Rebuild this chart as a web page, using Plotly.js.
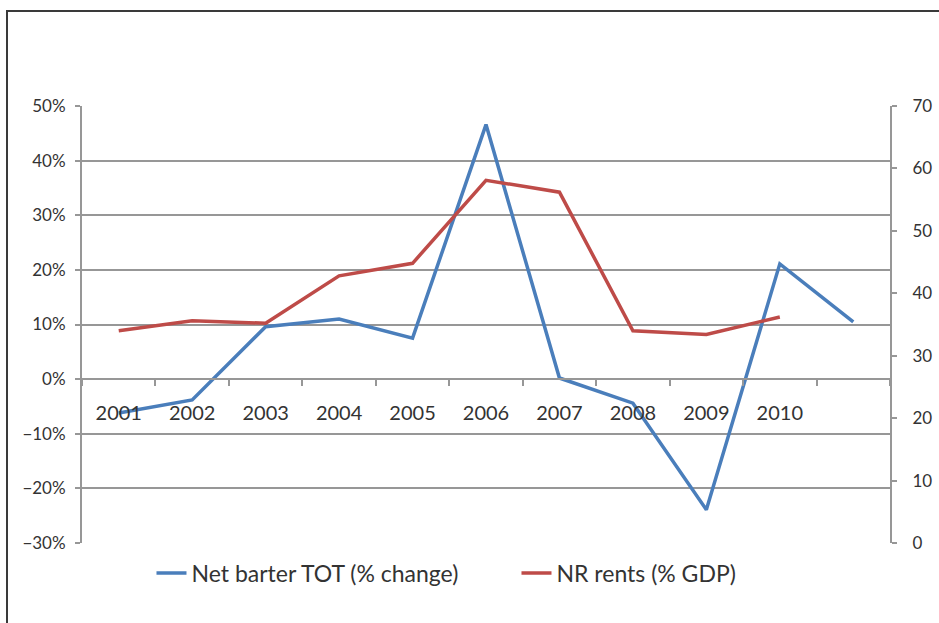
<!DOCTYPE html>
<html>
<head>
<meta charset="utf-8">
<script src="https://cdn.plot.ly/plotly-3.0.1.min.js"></script>
<style>
  html, body { margin: 0; padding: 0; background: #fff; }
  #wrap { position: relative; width: 939px; height: 623px; }
  #chart { position: absolute; left: 0; top: 0; width: 939px; height: 623px; }
  #frame { position: absolute; left: 6px; top: 10px; width: 933px; height: 613px;
           border-top: 2px solid #3a3a3a; border-left: 2px solid #3a3a3a; pointer-events: none; }
</style>
</head>
<body>
<div id="wrap">
  <div id="chart"></div>
  <div id="frame"></div>
</div>
<script>
// Categories (11th point has no label on the axis)
var categories = ["2001", "2002", "2003", "2004", "2005", "2006", "2007", "2008", "2009", "2010", "2011"];
var tickLabels = ["2001", "2002", "2003", "2004", "2005", "2006", "2007", "2008", "2009", "2010", " "];

// Net barter terms of trade, % change (left axis, fraction)
var totChange = [-0.062, -0.038, 0.096, 0.110, 0.075, 0.466, 0.002, -0.044, -0.239, 0.211, 0.105];

// Natural resource rents, % of GDP (right axis)
var nrRents = [34.0, 35.6, 35.2, 42.8, 44.8, 58.1, 56.2, 34.0, 33.4, 36.2, null];

var seriesNames = ["Net barter TOT (% change)", "NR rents (% GDP)"];

var gridCol = "#979797";
var txtCol = "#333333";
var fontFam = "Lato, 'Open Sans', sans-serif";

var traces = [
  {
    x: categories, y: totChange, name: seriesNames[0], type: "scatter", mode: "lines",
    line: { color: "#4a7ebb", width: 3.5 }, yaxis: "y"
  },
  {
    x: categories, y: nrRents, name: seriesNames[1], type: "scatter", mode: "lines",
    line: { color: "#be4b48", width: 3.5 }, yaxis: "y2", connectgaps: false
  }
];

var layout = {
  width: 939, height: 623,
  margin: { l: 82, r: 49, t: 106, b: 80 },
  paper_bgcolor: "#ffffff", plot_bgcolor: "#ffffff",
  font: { family: fontFam, color: txtCol },
  showlegend: true,
  legend: {
    orientation: "h", x: 0.086, xanchor: "left", y: -0.069, yanchor: "middle",
    font: { size: 23, color: txtCol, family: fontFam },
    bgcolor: "rgba(0,0,0,0)", itemwidth: 30, traceorder: "normal",
    entrywidth: 320, entrywidthmode: "pixels"
  },
  xaxis: {
    type: "category",
    categoryorder: "array", categoryarray: categories,
    tickmode: "array", tickvals: categories, ticktext: tickLabels,
    tickson: "boundaries",
    anchor: "free", position: 0.375,
    showline: true, linecolor: gridCol, linewidth: 2,
    ticks: "outside", ticklen: 6, tickcolor: gridCol, tickwidth: 2,
    showgrid: false, zeroline: false,
    tickfont: { size: 20, color: txtCol, family: fontFam },
    ticklabelstandoff: 16,
    range: [-0.5, 10.5]
  },
  xaxis2: {
    overlaying: "x", anchor: "y", side: "bottom",
    showline: true, mirror: "all", linecolor: gridCol, linewidth: 2,
    showticklabels: false, ticks: "", showgrid: false, zeroline: false,
    range: [0, 1]
  },
  yaxis: {
    range: [-0.30, 0.50], dtick: 0.10, tickformat: ".0%",
    showgrid: true, gridcolor: gridCol, gridwidth: 2,
    showline: true, linecolor: gridCol, linewidth: 2,
    ticks: "outside", ticklen: 5, tickcolor: gridCol, tickwidth: 2,
    zeroline: false,
    tickfont: { size: 17, color: txtCol, family: fontFam },
    ticklabelstandoff: 6
  },
  yaxis2: {
    overlaying: "y", side: "right", anchor: "x",
    range: [0, 70], dtick: 10,
    showgrid: false, zeroline: false,
    showline: true, linecolor: gridCol, linewidth: 2,
    ticks: "outside", ticklen: 5, tickcolor: gridCol, tickwidth: 2,
    tickfont: { size: 17, color: txtCol, family: fontFam },
    ticklabelstandoff: 12
  }
};

Plotly.newPlot("chart", traces, layout, { displayModeBar: false, staticPlot: true });
</script>
</body>
</html>
